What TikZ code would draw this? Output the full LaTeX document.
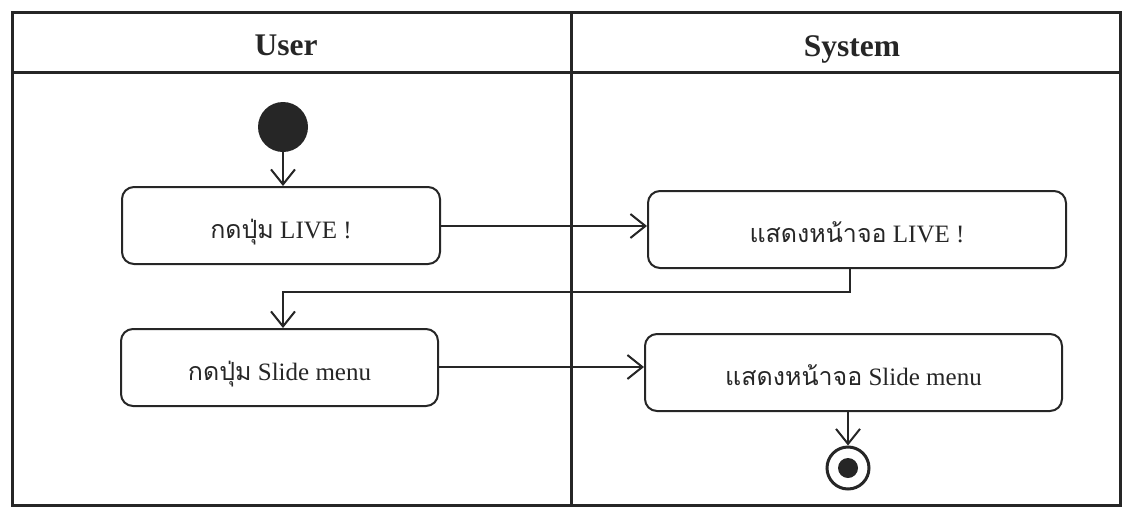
\documentclass[tikz,border=0pt]{standalone}
\usepackage{fontspec}
\setmainfont{Liberation Serif}
\newfontfamily\thaifont[Script=Thai]{Loma}
\usetikzlibrary{arrows.meta}
\tikzset{
  lane/.style={line width=3pt, draw=black!85},
  act/.style={draw=black!85, line width=2pt, rounded corners=12pt, minimum width=318pt, minimum height=77pt,
              font=\fontsize{25}{29}\selectfont, inner sep=0pt, text=black!85,
              text height=30pt, text depth=4pt},
  flow/.style={draw=black!85, line width=2pt, -{Straight Barb[length=15pt,width=24pt,line width=2pt]}},
  lanehead/.style={font=\fontsize{31.5}{36}\selectfont\bfseries, text=black!85}
}
\begin{document}
\begin{tikzpicture}[x=1pt,y=-1pt]
  \useasboundingbox (0,0) rectangle (1128,509);
  % swimlane frame
  \draw[lane] (12,12) rectangle (1120,505);
  \draw[lane] (12,72) -- (1120,72);
  \draw[lane] (571,12) -- (571,505);
  \node[lanehead] (user) at (286,45) {User};
  \node[lanehead] (sys) at (852,49) {System};
  % initial and final states
  \node[circle, fill=black!85, minimum size=50pt, inner sep=0pt] (start) at (283,127) {};
  \node[circle, draw=black!85, line width=3pt, minimum size=42pt, inner sep=0pt] (stop) at (848,468) {};
  \node[circle, fill=black!85, minimum size=20pt, inner sep=0pt] (stopdot) at (848,468) {};
  % activities
  \node[act] (a1) at (281,225.5) {{\thaifont กดปุ่ม} LIVE !};
  \node[act, minimum width=418pt] (a2) at (857,229.5) {{\thaifont แสดงหน้าจอ} LIVE !};
  \node[act, minimum width=317pt] (a3) at (279.5,367.5) {{\thaifont กดปุ่ม} Slide menu};
  \node[act, minimum width=417pt] (a4) at (853.5,372.5) {{\thaifont แสดงหน้าจอ} Slide menu};
  % transitions
  \draw[flow] (start) -- (a1.north -| start);
  \draw[flow] (a1.east |- 0,226) -- (a2.west |- 0,226);
  \coordinate (turn) at (850,292);
  \draw[flow] (a2.south -| turn) -- (turn) -- (283,292) -- (a3.north -| 283,0);
  \draw[flow] (a3.east |- 0,367) -- (a4.west |- 0,367);
  \draw[flow] (a4.south -| stop) -- (stop.north);
\end{tikzpicture}
\end{document}
